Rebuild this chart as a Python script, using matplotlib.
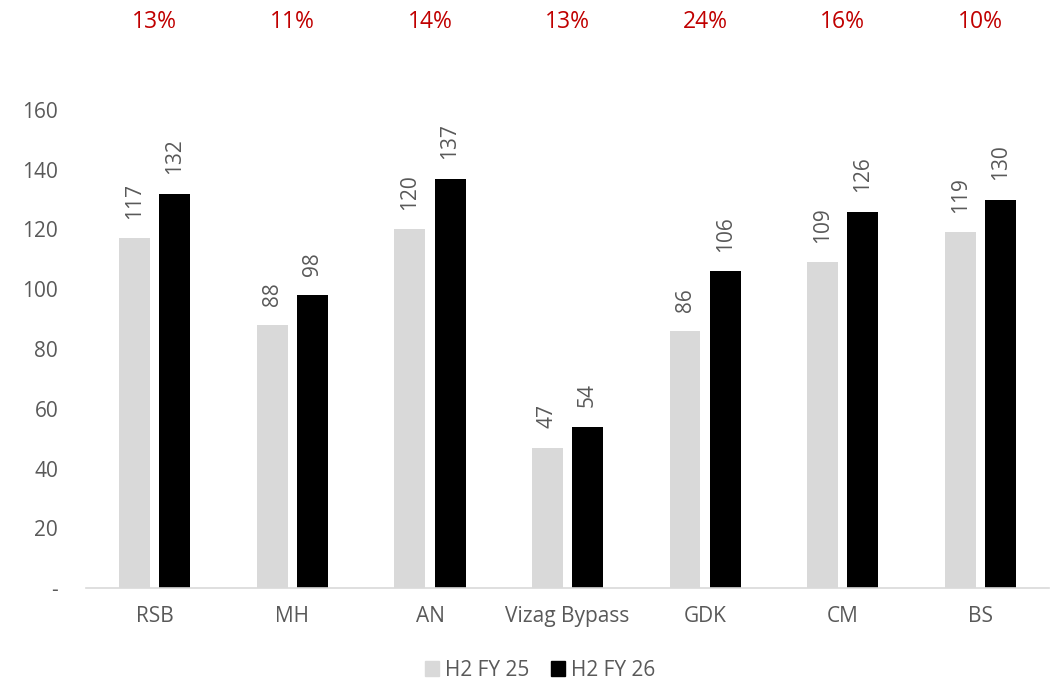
import numpy as np
import matplotlib.pyplot as plt
from matplotlib.patches import Patch

plt.rcParams['font.family'] = ['Open Sans', 'DejaVu Sans']

categories = ['RSB', 'MH', 'AN', 'Vizag Bypass', 'GDK', 'CM', 'BS']
h2_fy25 = [117, 88, 120, 47, 86, 109, 119]
h2_fy26 = [132, 98, 137, 54, 106, 126, 130]
growth = ['13%', '11%', '14%', '13%', '24%', '16%', '10%']
series_names = ['H2 FY 25', 'H2 FY 26']

TEXT = '#595959'
LIGHT = '#D9D9D9'
DARK = '#000000'
RED = '#C00000'

fig = plt.figure(figsize=(10.59, 6.83), dpi=100)
ax = fig.add_axes([0.0812, 0.139, 0.9094, 0.700])

x = np.arange(len(categories))
w = 0.225
off = 0.146
ax.bar(x - off, h2_fy25, w, color=LIGHT)
ax.bar(x + off, h2_fy26, w, color=DARK)

for xi, v in zip(x - off, h2_fy25):
    ax.annotate(str(v), (xi, v), xytext=(0, 14), textcoords='offset points',
                rotation=90, ha='center', va='bottom', fontsize=15, color=TEXT)
for xi, v in zip(x + off, h2_fy26):
    ax.annotate(str(v), (xi, v), xytext=(0, 14), textcoords='offset points',
                rotation=90, ha='center', va='bottom', fontsize=15, color=TEXT)

# growth labels across the top
for xi, g in zip(x, growth):
    ax.text(xi, 1.185, g, transform=ax.get_xaxis_transform(), ha='center',
            va='center', fontsize=16.5, color=RED)

ax.set_xlim(-0.5, len(categories) - 0.5)
ax.set_ylim(0, 160)
ax.set_yticks(range(0, 161, 20))
ax.set_yticklabels(['-'] + [str(t) for t in range(20, 161, 20)])
ax.set_xticks(x)
ax.set_xticklabels(categories)
ax.tick_params(axis='both', length=0, labelsize=15, colors=TEXT)
ax.tick_params(axis='y', pad=20)
ax.tick_params(axis='x', pad=13)

for s in ['top', 'right', 'left']:
    ax.spines[s].set_visible(False)
ax.spines['bottom'].set_color(LIGHT)
ax.spines['bottom'].set_linewidth(1.2)

handles = [Patch(color=LIGHT), Patch(color=DARK)]
fig.legend(handles, series_names, loc='center', bbox_to_anchor=(0.51, 0.019),
           ncol=2, frameon=False, fontsize=15, labelcolor=TEXT,
           handlelength=0.7, handleheight=0.7, handletextpad=0.3,
           columnspacing=1.0)

fig.savefig('out.png', dpi=100)
